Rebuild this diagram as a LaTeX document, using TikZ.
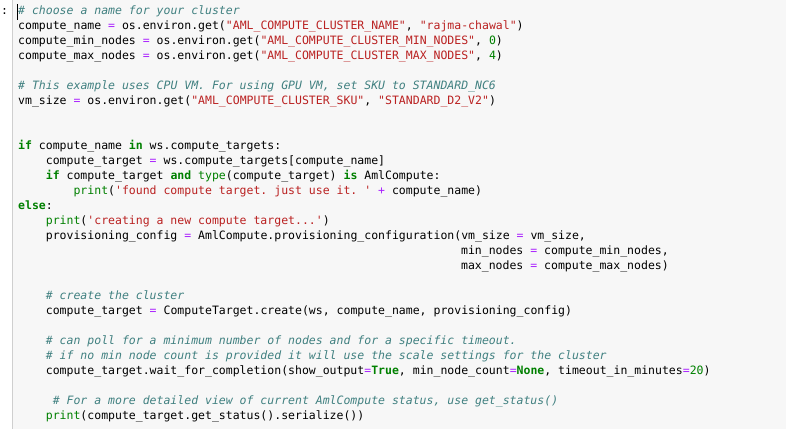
\documentclass[tikz,border=0pt]{standalone}
\usepackage{fontspec}
\setmonofont{DejaVu Sans Mono}
\definecolor{cbg}{HTML}{F7F7F7}
\definecolor{cbd}{HTML}{CFCFCF}
\definecolor{ccom}{HTML}{408080}
\definecolor{cstr}{HTML}{BA2121}
\definecolor{ckw}{HTML}{008000}
\definecolor{cop}{HTML}{AA22FF}
\newcommand{\K}[1]{\textcolor{ckw}{\bfseries #1}}
\newcommand{\Bi}[1]{\textcolor{ckw}{#1}}
\newcommand{\Sx}[1]{\textcolor{cstr}{#1}}
\newcommand{\Op}[1]{\textcolor{cop}{#1}}
\newcommand{\Cm}[1]{\textcolor{ccom}{\itshape #1}}
\newcommand{\Nm}[1]{\textcolor{ckw}{#1}}
\tikzset{codeline/.style={anchor=west,inner sep=0pt,text height=8pt,text depth=2.5pt,font=\ttfamily\fontsize{11.5}{13}\selectfont,text=black}}
\newcommand{\codeln}[3]{\node[codeline] (l#2) at ({18+#1*6.92},{12+15*#2}) {#3};}
\begin{document}
\begin{tikzpicture}[x=1pt,y=-1pt]
\useasboundingbox (0,0) rectangle (786,429);
\fill[cbg] (12,0) rectangle (786,429);
\draw[cbd] (12.5,0) -- (12.5,429);
\node[codeline] (prompt) at (1,12) {:};
\draw[black,line width=0.8pt] (17.5,4) -- (17.5,20);
\codeln{0}{0}{\Cm{\# choose a name for your cluster}}
\codeln{0}{1}{compute\_name \Op{=} os.environ.get(\Sx{"AML\_COMPUTE\_CLUSTER\_NAME"}, \Sx{"rajma-chawal"})}
\codeln{0}{2}{compute\_min\_nodes \Op{=} os.environ.get(\Sx{"AML\_COMPUTE\_CLUSTER\_MIN\_NODES"}, \Nm{0})}
\codeln{0}{3}{compute\_max\_nodes \Op{=} os.environ.get(\Sx{"AML\_COMPUTE\_CLUSTER\_MAX\_NODES"}, \Nm{4})}
\codeln{0}{5}{\Cm{\# This example uses CPU VM. For using GPU VM, set SKU to STANDARD\_NC6}}
\codeln{0}{6}{vm\_size \Op{=} os.environ.get(\Sx{"AML\_COMPUTE\_CLUSTER\_SKU"}, \Sx{"STANDARD\_D2\_V2"})}
\codeln{0}{9}{\K{if} compute\_name \K{in} ws.compute\_targets:}
\codeln{4}{10}{compute\_target \Op{=} ws.compute\_targets[compute\_name]}
\codeln{4}{11}{\K{if} compute\_target \K{and} \Bi{type}(compute\_target) \K{is} AmlCompute:}
\codeln{8}{12}{\Bi{print}(\Sx{'found compute target. just use it. '} \Op{+} compute\_name)}
\codeln{0}{13}{\K{else}:}
\codeln{4}{14}{\Bi{print}(\Sx{'creating a new compute target...'})}
\codeln{4}{15}{provisioning\_config \Op{=} AmlCompute.provisioning\_configuration(vm\_size \Op{=} vm\_size,}
\codeln{64}{16}{min\_nodes \Op{=} compute\_min\_nodes,}
\codeln{64}{17}{max\_nodes \Op{=} compute\_max\_nodes)}
\codeln{4}{19}{\Cm{\# create the cluster}}
\codeln{4}{20}{compute\_target \Op{=} ComputeTarget.create(ws, compute\_name, provisioning\_config)}
\codeln{4}{22}{\Cm{\# can poll for a minimum number of nodes and for a specific timeout.}}
\codeln{4}{23}{\Cm{\# if no min node count is provided it will use the scale settings for the cluster}}
\codeln{4}{24}{compute\_target.wait\_for\_completion(show\_output\Op{=}\K{True}, min\_node\_count\Op{=}\K{None}, timeout\_in\_minutes\Op{=}\Nm{20})}
\codeln{5}{26}{\Cm{\# For a more detailed view of current AmlCompute status, use get\_status()}}
\codeln{4}{27}{\Bi{print}(compute\_target.get\_status().serialize())}
\end{tikzpicture}
\end{document}
